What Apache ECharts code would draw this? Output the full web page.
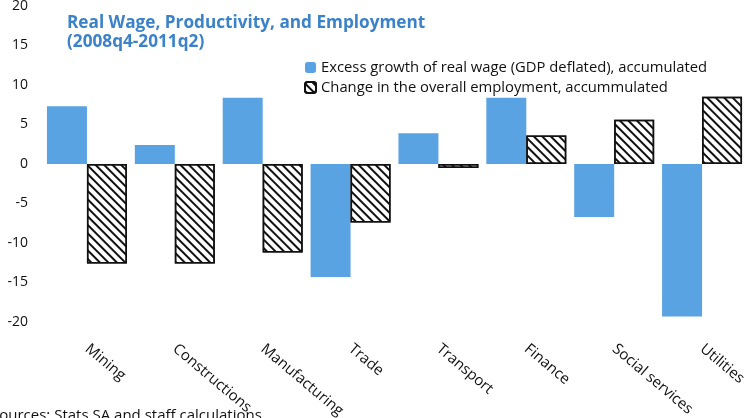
<!DOCTYPE html>
<html><head><meta charset="utf-8">
<script src="https://cdn.jsdelivr.net/npm/echarts@6/dist/echarts.min.js"></script>
<style>html,body{margin:0;padding:0;background:#fff}#c{width:746px;height:418px}</style>
</head><body><div id="c"></div>
<script>
const categories = ['Mining','Constructions','Manufacturing','Trade','Transport','Finance','Social services','Utilities'];
const realWage = [7.3, 2.4, 8.4, -14.3, 3.9, 8.4, -6.7, -19.3];
const employment = [-12.6, -12.6, -11.2, -7.4, -0.5, 3.6, 5.6, 8.5];
const yTicks = [-20, -15, -10, -5, 0, 5, 10, 15, 20];
const seriesNames = ['Excess growth of real wage (GDP deflated), accumulated', 'Change in the overall employment, accummulated'];
const FONT = '"Open Sans", "Noto Sans", sans-serif';
const chart = echarts.init(document.getElementById('c'));
chart.setOption({
  animation: false,
  backgroundColor: '#fff',
  title: {
    text: 'Real Wage, Productivity, and Employment\n(2008q4-2011q2)',
    left: 62, top: 9,
    textStyle: {fontFamily: FONT, fontSize: 17.2, fontWeight: 'bold', color: '#3b82c8', lineHeight: 19}
  },
  legend: {
    orient: 'vertical', left: 299, top: 55, itemWidth: 11, itemHeight: 11, itemGap: 5,
    textStyle: {fontFamily: FONT, fontSize: 14.8, color: '#111'},
    data: seriesNames
  },
  grid: {left: 43, right: 0, top: 6, bottom: 96, containLabel: false, outerBoundsMode: 'none'},
  xAxis: {
    type: 'category', data: categories,
    axisLine: {show: false}, axisTick: {show: false},
    axisLabel: {rotate: -40, margin: 25, fontFamily: FONT, fontSize: 15, color: '#111', interval: 0}
  },
  yAxis: {
    type: 'value', min: yTicks[0], max: yTicks[yTicks.length-1], interval: 5,
    axisLine: {show: false}, axisTick: {show: false}, splitLine: {show: false},
    axisLabel: {margin: 15, fontFamily: FONT, fontSize: 14, color: '#111'}
  },
  series: [
    {name: seriesNames[0], type: 'bar', data: realWage, barGap: '0%', barCategoryGap: '9%',
     itemStyle: {color: '#5aa3e2'}},
    {name: seriesNames[1], type: 'bar', data: employment,
     itemStyle: {color: '#fff', borderColor: '#111', borderWidth: 1.5,
       decal: {symbol: 'rect', symbolSize: 1, color: '#111', dashArrayX: [1, 0], dashArrayY: [2, 4], rotation: Math.PI/4}}}
  ],
  graphic: [{type: 'text', left: -9, top: 408, style: {text: 'Sources: Stats SA and staff calculations', font: '15px ' + FONT, fill: '#111'}}]
});
</script></body></html>
